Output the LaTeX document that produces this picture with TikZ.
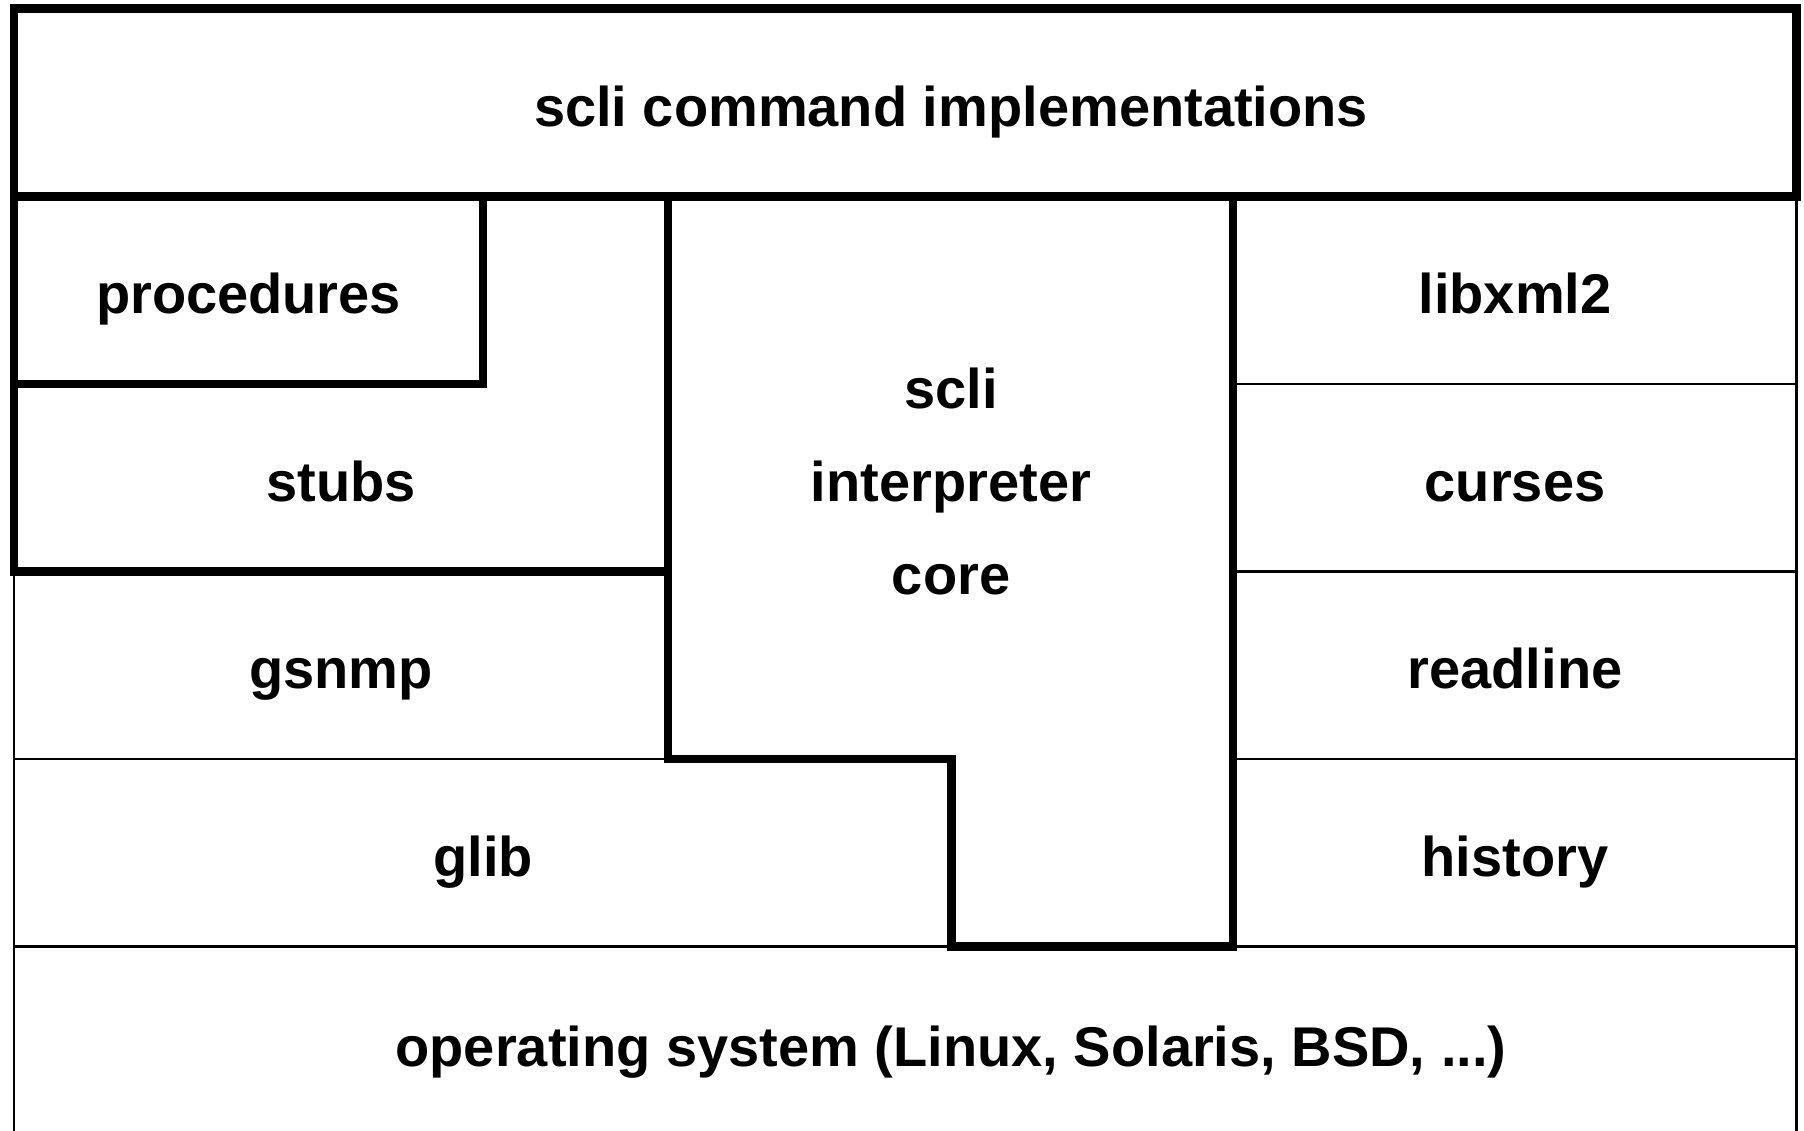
\documentclass[tikz,border=0pt]{standalone}
\usepackage{fontspec}
\setmainfont{Liberation Sans}
\begin{document}
\begin{tikzpicture}[x=1pt,y=-1pt,
  thinline/.style={line width=2.7pt,line cap=butt},
  thickline/.style={line width=8.5pt,line join=miter},
  lbl/.style={font=\fontsize{56}{67}\selectfont\bfseries,inner sep=0pt,anchor=base}]
\useasboundingbox[fill=white] (0,0) rectangle (1804,1130);
% thin lines
\begin{scope}
\clip (0,0) rectangle (1804,1130);
\draw[thinline] (14,196.5) -- (14,1140);
\draw[thinline] (1796.5,196.5) -- (1796.5,1140);
\end{scope}
\draw[thinline] (14,759) -- (668,759);
\draw[thinline] (14,946.5) -- (1796.5,946.5);
\draw[thinline] (1233,384) -- (1796.5,384);
\draw[thinline] (1233,571.5) -- (1796.5,571.5);
\draw[thinline] (1233,759) -- (1796.5,759);
% thick outlines
\draw[thickline] (14,8.5) rectangle (1796.5,196.5);
\draw[thickline] (14,196.5) rectangle (483,384);
\draw[thickline] (14,196.5) -- (14,571.5) -- (668,571.5);
\draw[thickline] (668,196.5) -- (1233,196.5) -- (1233,946.5) -- (951.5,946.5)
  -- (951.5,759) -- (668,759) -- cycle;
% labels
\node[lbl] (top) at (951,126) {scli command implementations};
\node[lbl] (proc) at (248.5,313) {procedures};
\node[lbl] (stubs) at (341,501) {stubs};
\node[lbl] (gsnmp) at (341,688) {gsnmp};
\node[lbl] (glib) at (483,876) {glib};
\node[lbl] (corea) at (951,408) {scli};
\node[lbl] (coreb) at (951,501) {interpreter};
\node[lbl] (corec) at (951,594) {core};
\node[lbl] (libxml) at (1515,313) {libxml2};
\node[lbl] (curses) at (1515,501) {curses};
\node[lbl] (readline) at (1515,688) {readline};
\node[lbl] (history) at (1515,876) {history};
\node[lbl] (os) at (951,1066) {operating system (Linux, Solaris, BSD, ...)};
\end{tikzpicture}
\end{document}
